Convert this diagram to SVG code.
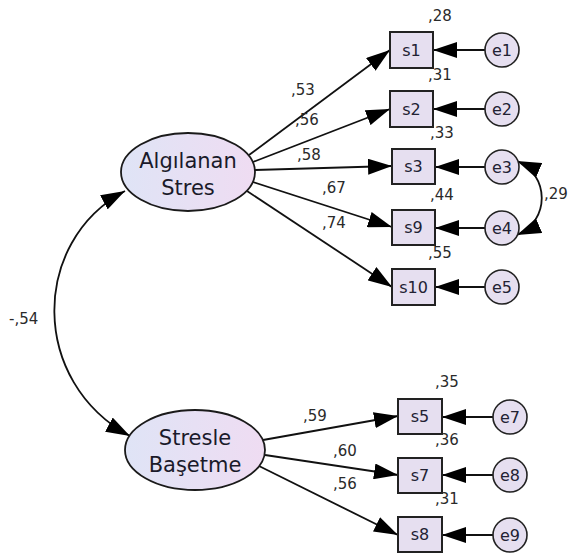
<svg xmlns="http://www.w3.org/2000/svg" width="568" height="559" viewBox="0 0 568 559">
  <style>
    .bg { fill: #ffffff; }
    .lat { fill: url(#latFill); stroke: #1a1a1a; stroke-width: 1.8; }
    .obs { fill: #e6dff0; stroke: #222222; stroke-width: 2; }
    .err { fill: #e6dff0; stroke: #222222; stroke-width: 1.6; }
    .edge { fill: none; stroke: #111111; stroke-width: 1.8; }
    .latTxt { font-family: "DejaVu Sans", Verdana, sans-serif; font-size: 21px; fill: #1a1a2a; text-anchor: middle; }
    .nodeTxt { font-family: "DejaVu Sans", Verdana, sans-serif; font-size: 16px; fill: #222233; text-anchor: middle; }
    .val { font-family: "DejaVu Sans", Verdana, sans-serif; font-size: 15px; fill: #2a2a2a; }
  </style>
  <defs>
    <linearGradient id="latFill" x1="0" y1="0" x2="1" y2="0">
      <stop offset="0" stop-color="#dfe4f6"/>
      <stop offset="1" stop-color="#efdcf2"/>
    </linearGradient>
    <marker id="ah" viewBox="0 0 24 16" refX="24" refY="8" markerWidth="24" markerHeight="16" orient="auto-start-reverse" markerUnits="userSpaceOnUse">
      <path d="M0,0 L24,8 L0,16 z" fill="#000000"/>
    </marker>
  </defs>

  <rect class="bg" x="0" y="0" width="568" height="559"/>

  <!-- connectors -->
  <g id="connectors">
    <!-- loadings: Algılanan Stres -->
    <path class="edge" d="M249,155 L390,50" marker-end="url(#ah)"/>
    <path class="edge" d="M253,162 L390,109" marker-end="url(#ah)"/>
    <path class="edge" d="M255,170 L392,166" marker-end="url(#ah)"/>
    <path class="edge" d="M253,182 L392,227" marker-end="url(#ah)"/>
    <path class="edge" d="M247,191 L392,287" marker-end="url(#ah)"/>
    <!-- loadings: Stresle Başetme -->
    <path class="edge" d="M263,440 L398,416" marker-end="url(#ah)"/>
    <path class="edge" d="M265,455 L398,475" marker-end="url(#ah)"/>
    <path class="edge" d="M259,466 L398,535" marker-end="url(#ah)"/>
    <!-- error terms -->
    <path class="edge" d="M485,50 L433,50" marker-end="url(#ah)"/>
    <path class="edge" d="M485,109 L433,109" marker-end="url(#ah)"/>
    <path class="edge" d="M485,167 L435,167" marker-end="url(#ah)"/>
    <path class="edge" d="M485,228 L435,228" marker-end="url(#ah)"/>
    <path class="edge" d="M485,287 L435,287" marker-end="url(#ah)"/>
    <path class="edge" d="M493,417 L442,417" marker-end="url(#ah)"/>
    <path class="edge" d="M493,475 L442,475" marker-end="url(#ah)"/>
    <path class="edge" d="M493,535 L442,535" marker-end="url(#ah)"/>
    <!-- covariances -->
    <path class="edge" d="M517,161 C550,175 550,221 517,235" marker-start="url(#ah)" marker-end="url(#ah)"/>
    <path class="edge" d="M125,191 C30,242 30,382 130,436" marker-start="url(#ah)" marker-end="url(#ah)"/>
  </g>

  <!-- latent variables -->
  <g id="algilanan-stres">
    <ellipse class="lat" cx="188" cy="172" rx="67" ry="39"/>
    <text class="latTxt" x="188" y="168">Algılanan</text>
    <text class="latTxt" x="188" y="195">Stres</text>
  </g>
  <g id="stresle-basetme">
    <ellipse class="lat" cx="195" cy="450" rx="70" ry="40"/>
    <text class="latTxt" x="195" y="445">Stresle</text>
    <text class="latTxt" x="195" y="472">Başetme</text>
  </g>

  <!-- observed variables -->
  <g id="s1"><rect class="obs" x="390" y="32" width="43" height="36"/><text class="nodeTxt" x="411.5" y="56">s1</text></g>
  <g id="s2"><rect class="obs" x="390" y="91" width="43" height="36"/><text class="nodeTxt" x="411.5" y="115">s2</text></g>
  <g id="s3"><rect class="obs" x="392" y="149" width="43" height="35"/><text class="nodeTxt" x="413.5" y="172">s3</text></g>
  <g id="s9"><rect class="obs" x="392" y="210" width="43" height="35"/><text class="nodeTxt" x="413.5" y="233">s9</text></g>
  <g id="s10"><rect class="obs" x="392" y="269" width="43" height="36"/><text class="nodeTxt" x="413.5" y="293">s10</text></g>
  <g id="s5"><rect class="obs" x="398" y="399" width="44" height="35"/><text class="nodeTxt" x="420" y="422">s5</text></g>
  <g id="s7"><rect class="obs" x="398" y="458" width="44" height="35"/><text class="nodeTxt" x="420" y="481">s7</text></g>
  <g id="s8"><rect class="obs" x="398" y="517" width="44" height="35"/><text class="nodeTxt" x="420" y="540">s8</text></g>

  <!-- error terms -->
  <g id="e1"><circle class="err" cx="502" cy="50" r="17"/><text class="nodeTxt" x="502" y="56">e1</text></g>
  <g id="e2"><circle class="err" cx="502" cy="109" r="17"/><text class="nodeTxt" x="502" y="115">e2</text></g>
  <g id="e3"><circle class="err" cx="502" cy="167" r="17"/><text class="nodeTxt" x="502" y="173">e3</text></g>
  <g id="e4"><circle class="err" cx="502" cy="228" r="17"/><text class="nodeTxt" x="502" y="234">e4</text></g>
  <g id="e5"><circle class="err" cx="502" cy="287" r="17"/><text class="nodeTxt" x="502" y="293">e5</text></g>
  <g id="e7"><circle class="err" cx="510" cy="417" r="17"/><text class="nodeTxt" x="510" y="423">e7</text></g>
  <g id="e8"><circle class="err" cx="510" cy="475" r="17"/><text class="nodeTxt" x="510" y="481">e8</text></g>
  <g id="e9"><circle class="err" cx="510" cy="535" r="17"/><text class="nodeTxt" x="510" y="541">e9</text></g>

  <!-- estimates -->
  <g id="estimates">
    <text class="val" x="428" y="21">,28</text>
    <text class="val" x="428" y="80">,31</text>
    <text class="val" x="430" y="138">,33</text>
    <text class="val" x="430" y="200">,44</text>
    <text class="val" x="428" y="258">,55</text>
    <text class="val" x="435" y="387">,35</text>
    <text class="val" x="435" y="445">,36</text>
    <text class="val" x="435" y="504">,31</text>
    <text class="val" x="291" y="95">,53</text>
    <text class="val" x="295" y="125">,56</text>
    <text class="val" x="297" y="160">,58</text>
    <text class="val" x="322" y="193">,67</text>
    <text class="val" x="322" y="228">,74</text>
    <text class="val" x="303" y="421">,59</text>
    <text class="val" x="333" y="456">,60</text>
    <text class="val" x="333" y="489">,56</text>
    <text class="val" x="9" y="324">-,54</text>
    <text class="val" x="544" y="199">,29</text>
  </g>
</svg>
